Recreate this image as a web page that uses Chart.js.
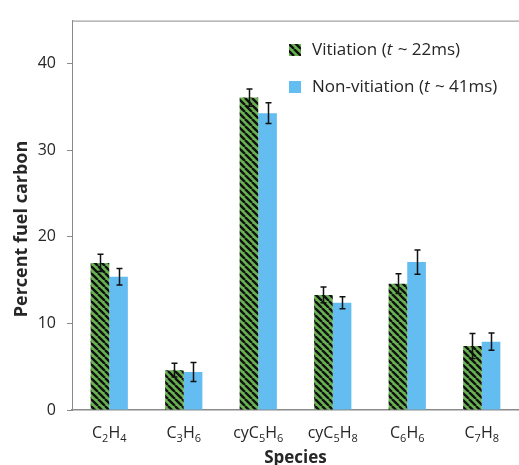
<!DOCTYPE html>
<html>
<head>
<meta charset="utf-8">
<script src="https://cdn.jsdelivr.net/npm/chart.js@4.4.1/dist/chart.umd.min.js"></script>
<style>
  html, body { margin: 0; padding: 0; background: #fff; overflow: hidden; }
  #wrap { position: relative; width: 519px; height: 465px; }
</style>
</head>
<body>
<div id="wrap"><canvas id="chart" width="519" height="465"></canvas></div>
<script>
// ===== Data =====
const species = ["C2H4", "C3H6", "cyC5H6", "cyC5H8", "C6H6", "C7H8"];
const vitiation = [17.0, 4.6, 36.1, 13.3, 14.6, 7.4];
const vitiationErr = [1.0, 0.8, 1.0, 0.9, 1.15, 1.45];
const nonVitiation = [15.4, 4.4, 34.3, 12.4, 17.1, 7.9];
const nonVitiationErr = [0.95, 1.1, 1.2, 0.7, 1.4, 1.0];
const yTicks = [0, 10, 20, 30, 40];
const legendLabels = [
  ["Vitiation (", "t", " ~ 22ms)"],
  ["Non-vitiation (", "t", " ~ 41ms)"]
];

const FONT = "'Open Sans', Lato, sans-serif";
const TEXT = "#262626";
const AXIS = "#8a8a8a";
const GREEN = "#68b252";
const BLUE = "#63bdf0";

// hatched green fill (black "\" stripes)
function hatch() {
  const s = 7;
  const c = document.createElement("canvas");
  c.width = s; c.height = s;
  const g = c.getContext("2d");
  g.fillStyle = GREEN;
  g.fillRect(0, 0, s, s);
  g.strokeStyle = "#111";
  g.lineWidth = 2.4;
  g.beginPath();
  for (const k of [-1, 0, 1]) {
    g.moveTo(k * s, 0);
    g.lineTo(k * s + s, s);
  }
  g.stroke();
  return g.createPattern(c, "repeat");
}
const ctx = document.getElementById("chart").getContext("2d");
const hatchFill = hatch();

// text with digits drawn as subscripts
function drawChem(g, label, cx, y, size) {
  const parts = label.match(/\d+|\D+/g);
  const sub = Math.round(size * 0.68);
  let w = 0;
  for (const p of parts) {
    g.font = `${/\d/.test(p) ? sub : size}px ${FONT}`;
    w += g.measureText(p).width;
  }
  let x = cx - w / 2;
  g.textAlign = "left";
  g.textBaseline = "alphabetic";
  for (const p of parts) {
    const isSub = /\d/.test(p);
    g.font = `${isSub ? sub : size}px ${FONT}`;
    g.fillText(p, x, isSub ? y + size * 0.22 : y);
    x += g.measureText(p).width;
  }
}

const extras = {
  id: "extras",
  afterDatasetsDraw(chart) {
    const g = chart.ctx;
    const { left, right, top } = chart.chartArea;
    const xs = chart.scales.x, ys = chart.scales.y;
    g.save();

    // top frame line
    g.strokeStyle = AXIS; g.lineWidth = 1;
    g.beginPath(); g.moveTo(left, top + 0.5); g.lineTo(right, top + 0.5); g.stroke();

    // error bars
    const errs = [vitiationErr, nonVitiationErr];
    g.strokeStyle = "#111"; g.lineWidth = 1.5;
    chart.data.datasets.forEach((ds, di) => {
      chart.getDatasetMeta(di).data.forEach((bar, i) => {
        const v = ds.data[i], e = errs[di][i];
        const y1 = ys.getPixelForValue(v + e), y2 = ys.getPixelForValue(v - e);
        const x = Math.round(bar.x) + 0.5;
        g.beginPath();
        g.moveTo(x, y1); g.lineTo(x, y2);
        g.moveTo(x - 3, y1); g.lineTo(x + 3, y1);
        g.moveTo(x - 3, y2); g.lineTo(x + 3, y2);
        g.stroke();
      });
    });

    // x tick labels with subscripts
    g.fillStyle = TEXT;
    species.forEach((s, i) => drawChem(g, s, xs.getPixelForValue(i), 438, 16));

    // axis titles
    g.font = `bold 17px ${FONT}`;
    g.textAlign = "center"; g.textBaseline = "middle";
    g.fillText("Species", (left + right) / 2, 458);
    g.save();
    g.translate(22, 229); g.rotate(-Math.PI / 2);
    g.font = `bold 18px ${FONT}`;
    g.fillText("Percent fuel carbon", 0, 0);
    g.restore();

    // legend
    const fills = [hatchFill, BLUE];
    legendLabels.forEach((parts, i) => {
      const cy = 50 + i * 37;
      g.fillStyle = fills[i];
      g.fillRect(289, cy - 6, 12, 12);
      let x = 312;
      g.fillStyle = TEXT; g.textAlign = "left"; g.textBaseline = "middle";
      parts.forEach((p, k) => {
        g.font = `${k === 1 ? "italic " : ""}17px ${FONT}`;
        g.fillText(p, x, cy);
        x += g.measureText(p).width + (k === 1 ? 1 : 0);
      });
    });
    g.restore();
  }
};

new Chart(ctx, {
  type: "bar",
  data: {
    labels: species,
    datasets: [
      { label: "Vitiation", data: vitiation, backgroundColor: hatchFill, borderWidth: 0 },
      { label: "Non-vitiation", data: nonVitiation, backgroundColor: BLUE, borderWidth: 0 }
    ]
  },
  options: {
    responsive: false,
    animation: false,
    layout: { padding: { top: 13, right: 0, left: 0, bottom: 0 } },
    datasets: { bar: { categoryPercentage: 0.5, barPercentage: 1 } },
    plugins: { legend: { display: false }, tooltip: { enabled: false } },
    scales: {
      x: {
        grid: { display: false },
        border: { display: true, color: AXIS, width: 1.5 },
        ticks: { display: false },
        afterFit: (s) => { s.height = 55; }
      },
      y: {
        min: 0, max: 45,
        afterBuildTicks: (s) => { s.ticks = yTicks.map(v => ({ value: v })); },
        grid: { drawOnChartArea: false, drawTicks: true, tickLength: 5, color: AXIS },
        border: { display: true, color: AXIS, width: 1 },
        ticks: { color: TEXT, padding: 11, font: { family: FONT, size: 16 } },
        afterFit: (s) => { s.width = 72; }
      }
    }
  },
  plugins: [extras]
});
</script>
</body>
</html>
